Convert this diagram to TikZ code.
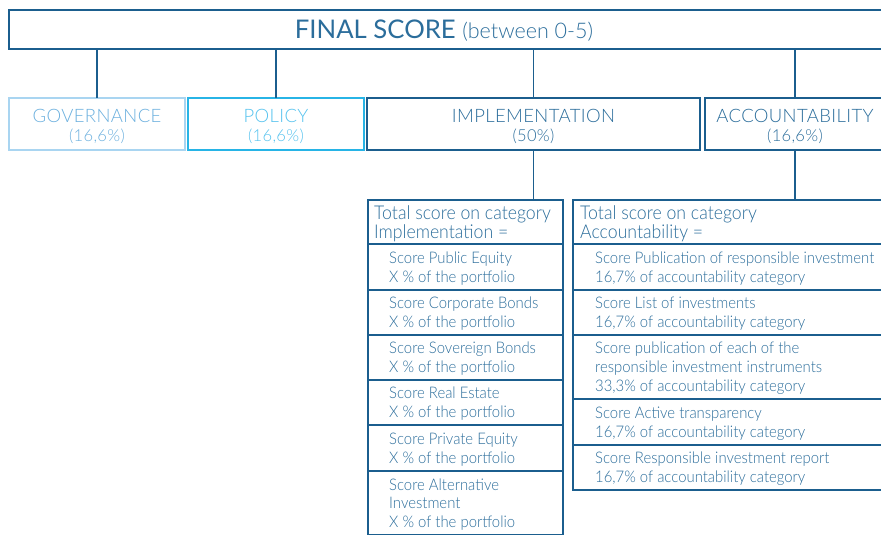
\documentclass[tikz,border=0pt]{standalone}
\usepackage{fontspec}
\setmainfont{Lato Light}[FakeStretch=0.93]
\newfontfamily\regfont{Lato}
\newfontfamily\catfont{Lato Light}[LetterSpace=2]
\newfontfamily\plainlight{Lato Light}
\definecolor{dk}{HTML}{1B5E8E}
\definecolor{tx}{HTML}{2B6D9B}
\definecolor{govline}{HTML}{A9D5F1}
\definecolor{govtx}{HTML}{6CB0DE}
\definecolor{polline}{HTML}{27B4E6}
\definecolor{poltx}{HTML}{55C2EE}
\newcommand{\pctsz}{\fontsize{16.5}{17}\selectfont}
\begin{document}
\begin{tikzpicture}[x=1pt,y=-1pt,
  box/.style={draw=dk, line width=1.4pt, rectangle, inner sep=0pt, outer sep=0pt, anchor=north west},
  cattxt/.style={text=tx, align=center, inner sep=0pt, yshift=-2.5pt, font=\catfont\fontsize{18.5}{19.5}\selectfont},
  lbl/.style={text=tx, align=left, anchor=west, inner sep=0pt, yshift=-1.5pt, font=\fontsize{16}{18.9}\selectfont},
  hlbl/.style={lbl, yshift=-0.5pt, font=\fontsize{19}{18.7}\selectfont},
  conn/.style={draw=dk, line width=1.4pt}]
\useasboundingbox (0,0) rectangle (881,535);
\clip (0,0) rectangle (881,535);
% top
\node[box, minimum width=900pt, minimum height=39pt] (fin) at (9,10) {};
\node[text=tx, inner sep=0pt] (fintxt) at (444,30.5) {\regfont\fontsize{25.7}{26}\selectfont FINAL SCORE \fontsize{21.5}{22}\selectfont\plainlight(between 0-5)};
% categories
\node[box, draw=govline, minimum width=176pt, minimum height=52pt] (gov) at (9,98) {};
\node[box, draw=polline, minimum width=176pt, minimum height=52pt] (pol) at (188,98) {};
\node[box, minimum width=333pt, minimum height=52pt] (imp) at (367,98) {};
\node[box, minimum width=200pt, minimum height=52pt] (acc) at (705,98) {};
\node[cattxt, text=govtx] (govt) at (gov.center) {GOVERNANCE\\{\pctsz(16,6\%)}};
\node[cattxt, text=poltx] (polt) at (pol.center) {POLICY\\{\pctsz(16,6\%)}};
\node[cattxt] (impt) at (imp.center) {IMPLEMENTATION\\{\pctsz(50\%)}};
\node[cattxt] (acctxt) at (795,124) {ACCOUNTABILITY\\{\pctsz(16,6\%)}};
% connectors top
\draw[conn] (gov.north |- fin.south) -- (gov.north);
\draw[conn] (pol.north |- fin.south) -- (pol.north);
\draw[conn] (imp.north |- fin.south) -- (imp.north);
\draw[conn] (acctxt |- fin.south) -- (acctxt |- acc.north);
% implementation detail
\node[box, minimum width=195pt, minimum height=44pt] (ih) at (368,200) {};
\node[box, minimum width=195pt, minimum height=46pt] (i1) at (368,244) {};
\node[box, minimum width=195pt, minimum height=45pt] (i2) at (368,290) {};
\node[box, minimum width=195pt, minimum height=45pt] (i3) at (368,335) {};
\node[box, minimum width=195pt, minimum height=45pt] (i4) at (368,380) {};
\node[box, minimum width=195pt, minimum height=46pt] (i5) at (368,425) {};
\node[box, minimum width=195pt, minimum height=64pt] (i6) at (368,471) {};
\node[hlbl] (iht) at ([xshift=6pt]ih.west) {Total score on category\\Implementation =};
\node[lbl] (i1t) at ([xshift=21pt]i1.west) {Score Public Equity\\X \% of the portfolio};
\node[lbl] (i2t) at ([xshift=21pt]i2.west) {Score Corporate Bonds\\X \% of the portfolio};
\node[lbl] (i3t) at ([xshift=21pt]i3.west) {Score Sovereign Bonds\\X \% of the portfolio};
\node[lbl] (i4t) at ([xshift=21pt]i4.west) {Score Real Estate\\X \% of the portfolio};
\node[lbl] (i5t) at ([xshift=21pt]i5.west) {Score Private Equity\\X \% of the portfolio};
\node[lbl] (i6t) at ([xshift=21pt]i6.west) {Score Alternative\\Investment\\X \% of the portfolio};
% accountability detail
\node[box, minimum width=330pt, minimum height=44pt] (ah) at (573,200) {};
\node[box, minimum width=330pt, minimum height=46pt] (a1) at (573,244) {};
\node[box, minimum width=330pt, minimum height=45pt] (a2) at (573,290) {};
\node[box, minimum width=330pt, minimum height=64pt] (a3) at (573,335) {};
\node[box, minimum width=330pt, minimum height=46pt] (a4) at (573,399) {};
\node[box, minimum width=330pt, minimum height=45pt] (a5) at (573,445) {};
\node[hlbl] (aht) at ([xshift=7pt]ah.west) {Total score on category\\Accountability =};
\node[lbl] (a1t) at ([xshift=22pt]a1.west) {Score Publication of responsible investment\\16,7\% of accountability category};
\node[lbl] (a2t) at ([xshift=22pt]a2.west) {Score List of investments\\16,7\% of accountability category};
\node[lbl] (a3t) at ([xshift=22pt]a3.west) {Score publication of each of the\\responsible investment instruments\\33,3\% of accountability category};
\node[lbl] (a4t) at ([xshift=22pt]a4.west) {Score Active transparency\\16,7\% of accountability category};
\node[lbl] (a5t) at ([xshift=22pt]a5.west) {Score Responsible investment report\\16,7\% of accountability category};
% connectors to detail
\draw[conn] (imp.south) -- (imp.south |- ih.north);
\draw[conn] (acctxt |- acc.south) -- (acctxt |- ah.north);
\end{tikzpicture}
\end{document}
